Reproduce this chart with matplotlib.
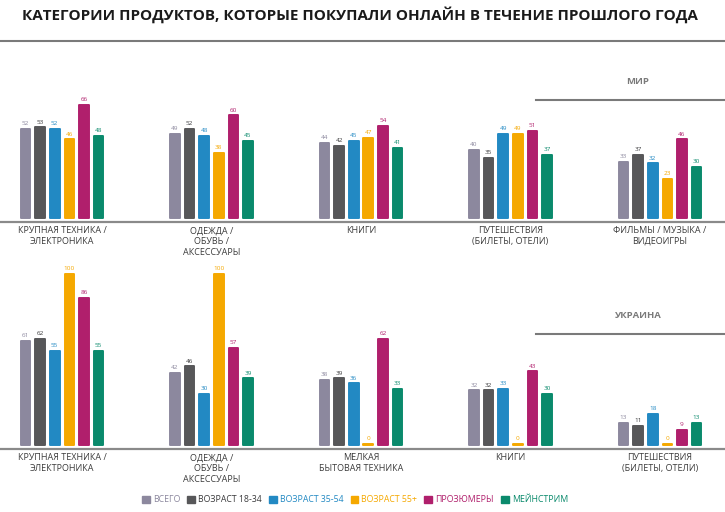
import matplotlib.pyplot as plt
from matplotlib.lines import Line2D
from matplotlib.patches import Patch
import numpy as np

plt.rcParams["font.family"] = ["Open Sans", "DejaVu Sans"]

series = ["ВСЕГО", "ВОЗРАСТ 18-34", "ВОЗРАСТ 35-54", "ВОЗРАСТ 55+", "ПРОЗЮМЕРЫ", "МЕЙНСТРИМ"]
colors = ["#8c889e", "#575759", "#2289c3", "#f5a800", "#b01f6c", "#0a8a6c"]
label_colors = ["#8c889e", "#3a3a3c", "#2289c3", "#f5a800", "#b01f6c", "#0a8a6c"]

world_cats = ["КРУПНАЯ ТЕХНИКА /\nЭЛЕКТРОНИКА", "ОДЕЖДА /\nОБУВЬ /\nАКСЕССУАРЫ", "КНИГИ",
              "ПУТЕШЕСТВИЯ\n(БИЛЕТЫ, ОТЕЛИ)", "ФИЛЬМЫ / МУЗЫКА /\nВИДЕОИГРЫ"]
world_total = [52, 49, 44, 40, 33]
world_18_34 = [53, 52, 42, 35, 37]
world_35_54 = [52, 48, 45, 49, 32]
world_55 = [46, 38, 47, 49, 23]
world_prosumers = [66, 60, 54, 51, 46]
world_mainstream = [48, 45, 41, 37, 30]

ua_cats = ["КРУПНАЯ ТЕХНИКА /\nЭЛЕКТРОНИКА", "ОДЕЖДА /\nОБУВЬ /\nАКСЕССУАРЫ", "МЕЛКАЯ\nБЫТОВАЯ ТЕХНИКА",
           "КНИГИ", "ПУТЕШЕСТВИЯ\n(БИЛЕТЫ, ОТЕЛИ)"]
ua_total = [61, 42, 38, 32, 13]
ua_18_34 = [62, 46, 39, 32, 11]
ua_35_54 = [55, 30, 36, 33, 18]
ua_55 = [100, 100, 0, 0, 0]
ua_prosumers = [86, 57, 62, 43, 9]
ua_mainstream = [55, 39, 33, 30, 13]

W, H = 725, 512
fig = plt.figure(figsize=(W / 100, H / 100), dpi=100)

# pixel-based layout helpers
GROUP_PX = 149.5
FIRST_PX = 62
PX_PER_UNIT = 1.71


def add_panel(spine_y, top_y, cats, values):
    ax = fig.add_axes([0, (H - spine_y) / H, 1, (spine_y - top_y) / H])
    gap = 4 / PX_PER_UNIT
    ax.set_ylim(-gap, -gap + (spine_y - top_y) / PX_PER_UNIT)
    ax.set_xlim(-FIRST_PX / GROUP_PX, (W - FIRST_PX) / GROUP_PX)
    x = np.arange(len(cats))
    step = 14.6 / GROUP_PX
    width = 9.6 / GROUP_PX
    for k, vals in enumerate(values):
        pos = x + (k - 2.5) * step
        heights = [max(v, 0.6) for v in vals]
        ax.bar(pos, heights, width=width, color=colors[k], edgecolor=colors[k],
               linewidth=1.4, joinstyle="round")
        for xp, v in zip(pos, vals):
            ax.text(xp, max(v, 0.6) + 1.6, str(v), ha="center", va="bottom",
                    fontsize=4.6, color=label_colors[k])
    for s in ["top", "left", "right"]:
        ax.spines[s].set_visible(False)
    ax.spines["bottom"].set_color("#8a8a8a")
    ax.spines["bottom"].set_linewidth(1.6)
    ax.set_yticks([])
    ax.set_xticks(x)
    ax.set_xticklabels(cats, fontsize=6.5, color="#3c3c3c", linespacing=1.25)
    ax.tick_params(axis="x", length=0, pad=3)
    ax.patch.set_alpha(0)
    return ax


add_panel(222, 60, world_cats,
          [world_total, world_18_34, world_35_54, world_55, world_prosumers, world_mainstream])
add_panel(449, 262, ua_cats,
          [ua_total, ua_18_34, ua_35_54, ua_55, ua_prosumers, ua_mainstream])

fig.text(360 / W, 1 - 15 / H, "КАТЕГОРИИ ПРОДУКТОВ, КОТОРЫЕ ПОКУПАЛИ ОНЛАЙН В ТЕЧЕНИЕ ПРОШЛОГО ГОДА",
         ha="center", va="center", fontsize=11, fontweight="bold", color="#1a1a1a")
fig.add_artist(Line2D([0, 1], [1 - 41 / H] * 2, color="#7a7a7a", lw=1.5))

fig.text(638 / W, 1 - 82 / H, "МИР", ha="center", va="center", fontsize=6.8,
         fontweight="bold", color="#7a7a7a")
fig.add_artist(Line2D([536 / W, 1], [1 - 100 / H] * 2, color="#7a7a7a", lw=1.5))
fig.text(638 / W, 1 - 315 / H, "УКРАИНА", ha="center", va="center", fontsize=6.8,
         fontweight="bold", color="#7a7a7a")
fig.add_artist(Line2D([536 / W, 1], [1 - 334 / H] * 2, color="#7a7a7a", lw=1.5))

handles = [Patch(facecolor=c, edgecolor=c) for c in colors]
leg = fig.legend(handles, series, loc="center", bbox_to_anchor=(355 / W, 1 - 500 / H), ncol=6,
                 frameon=False, fontsize=6.3, handlelength=0.9, handleheight=0.9,
                 handletextpad=0.35, columnspacing=0.8)
for t, c in zip(leg.get_texts(), label_colors):
    t.set_color(c)

fig.savefig("out.png", dpi=100)
